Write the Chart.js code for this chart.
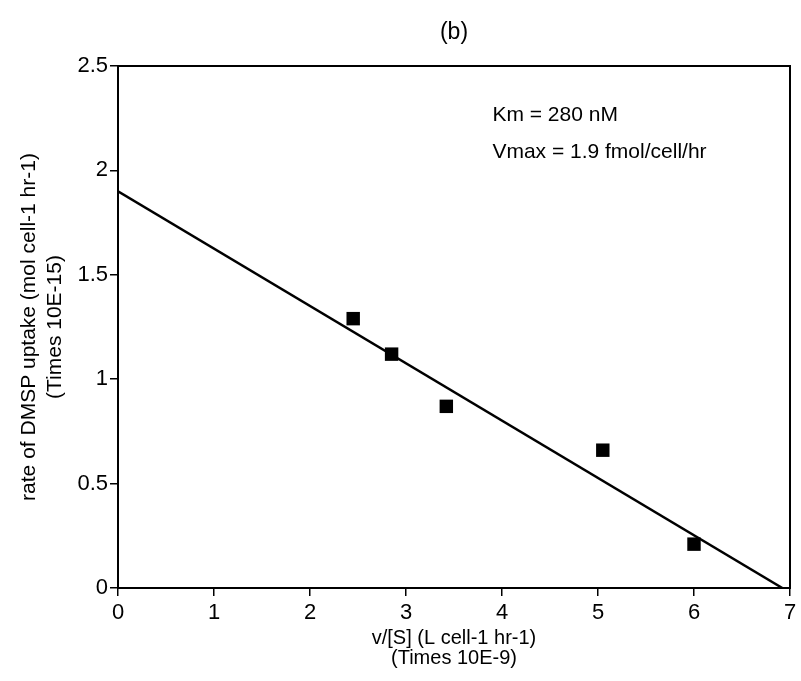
<!DOCTYPE html>
<html>
<head>
<meta charset="utf-8">
<title>DMSP uptake (b)</title>
<script src="https://cdn.jsdelivr.net/npm/chart.js@4/dist/chart.umd.min.js"></script>
<style>
    html, body { margin: 0; padding: 0; background: #fff; }
    canvas { display: block; }
</style>
</head>
<body>
<canvas id="uptakeChart" width="801" height="681"></canvas>
<script>
// Measured uptake rates (v/[S] vs v)
const vOverS = [2.45, 2.85, 3.42, 5.05, 6.0];      // x, times 10E-9
const uptakeRate = [1.29, 1.12, 0.87, 0.66, 0.21]; // y, times 10E-15

// Fitted line end points
const fitX = [0, 6.92];
const fitY = [1.9, 0];

// Tick labels
const xTickLabels = ['0', '1', '2', '3', '4', '5', '6', '7'];
const yTickLabels = ['0', '0.5', '1', '1.5', '2', '2.5'];

// Fit results shown inside the plot
const fitNotes = ['Km = 280 nM', 'Vmax = 1.9 fmol/cell/hr'];
const fitNotesAt = { x: 3.9, y: [2.265, 2.085] };

const FONT = '"Liberation Sans", Arial, Helvetica, sans-serif';

// Writes the Km / Vmax text at scale positions
const notesPlugin = {
    id: 'fitNotes',
    afterDatasetsDraw(chart) {
        const ctx = chart.ctx;
        const xs = chart.scales.x, ys = chart.scales.y;
        ctx.save();
        ctx.fillStyle = '#000';
        ctx.font = '21px ' + FONT;
        ctx.textAlign = 'left';
        ctx.textBaseline = 'middle';
        fitNotes.forEach((line, i) => {
            ctx.fillText(line, xs.getPixelForValue(fitNotesAt.x), ys.getPixelForValue(fitNotesAt.y[i]));
        });
        ctx.restore();
    }
};

const tickGrid = {
    display: true,
    drawOnChartArea: false,
    drawTicks: true,
    tickLength: 8,
    color: '#000',
    lineWidth: 1.5
};
const frameBorder = { display: true, color: '#000', width: 2 };

new Chart(document.getElementById('uptakeChart').getContext('2d'), {
    type: 'scatter',
    data: {
        datasets: [{
            label: 'uptake',
            data: vOverS.map((x, i) => ({ x, y: uptakeRate[i] })),
            pointStyle: 'rect',
            pointRadius: 9.5,
            pointBorderWidth: 0,
            backgroundColor: '#000',
            borderColor: '#000'
        }, {
            label: 'fit',
            data: fitX.map((x, i) => ({ x, y: fitY[i] })),
            showLine: true,
            borderColor: '#000',
            borderWidth: 2.5,
            pointRadius: 0
        }]
    },
    options: {
        responsive: false,
        devicePixelRatio: 1,
        animation: false,
        layout: { padding: 0 },
        plugins: {
            legend: { display: false },
            tooltip: { enabled: false }
        },
        scales: {
            x: {
                type: 'linear',
                position: 'bottom',
                min: 0,
                max: 7,
                afterFit: scale => { scale.height = 93; },
                ticks: {
                    stepSize: 1,
                    padding: 4,
                    color: '#000',
                    font: { family: FONT, size: 22 },
                    maxRotation: 0,
                    callback: (value, index) => xTickLabels[index]
                },
                grid: tickGrid,
                border: frameBorder,
                title: {
                    display: true,
                    text: ['v/[S] (L cell-1 hr-1)', '(Times 10E-9)'],
                    color: '#000',
                    font: { family: FONT, size: 20, lineHeight: 1.0 },
                    padding: { top: 0, bottom: 13 }
                }
            },
            y: {
                type: 'linear',
                position: 'left',
                min: 0,
                max: 2.5,
                afterFit: scale => { scale.width = 118; },
                ticks: {
                    stepSize: 0.5,
                    padding: 2,
                    color: '#000',
                    font: { family: FONT, size: 22 },
                    callback: (value, index) => yTickLabels[index]
                },
                grid: tickGrid,
                border: frameBorder,
                title: {
                    display: true,
                    text: ['rate of DMSP uptake (mol cell-1 hr-1)', '(Times 10E-15)'],
                    color: '#000',
                    font: { family: FONT, size: 21, lineHeight: 1.2 },
                    padding: { top: 17, bottom: 0 }
                }
            },
            // top and right axes close the frame; the top one carries the panel label
            xTop: {
                type: 'linear',
                position: 'top',
                min: 0,
                max: 7,
                afterFit: scale => { scale.height = 66; },
                ticks: { display: false },
                grid: { display: false },
                border: frameBorder,
                title: {
                    display: true,
                    text: '(b)',
                    color: '#000',
                    font: { family: FONT, size: 23, lineHeight: 1.2 },
                    padding: { top: 19, bottom: 0 }
                }
            },
            yRight: {
                type: 'linear',
                position: 'right',
                min: 0,
                max: 2.5,
                afterFit: scale => { scale.width = 11; },
                ticks: { display: false },
                grid: { display: false },
                border: frameBorder
            }
        }
    },
    plugins: [notesPlugin]
});
</script>
</body>
</html>
